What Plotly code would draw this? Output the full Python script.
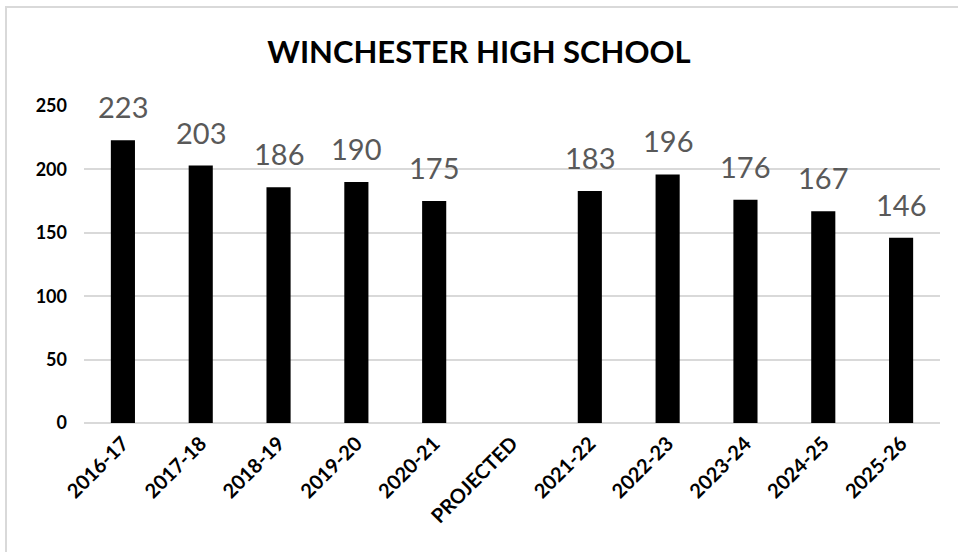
import plotly.graph_objects as go

categories = ["2016-17", "2017-18", "2018-19", "2019-20", "2020-21", "PROJECTED",
              "2021-22", "2022-23", "2023-24", "2024-25", "2025-26"]
values = [223, 203, 186, 190, 175, None, 183, 196, 176, 167, 146]

FONT = "Lato, Carlito, Open Sans, sans-serif"
W, H = 958, 552
L, R, T, B = 84, 18, 106, 129

fig = go.Figure(go.Bar(
    x=categories, y=values,
    marker=dict(color="#000000", line=dict(width=0)),
    cliponaxis=False,
))

for c, v in zip(categories, values):
    if v is None:
        continue
    fig.add_annotation(x=c, y=v, text=str(v), showarrow=False, yanchor="bottom",
                       yshift=14, font=dict(family=FONT, size=29, color="#595959"))

pw = W - L - R
ph = H - T - B
fig.add_shape(type="rect", xref="paper", yref="paper",
              x0=(6 - L) / pw, x1=(W + 5 - L) / pw,
              y0=-(H + 5 - T - ph) / ph, y1=(H - 7 - B) / ph,
              line=dict(color="#d9d9d9", width=2), fillcolor="rgba(0,0,0,0)", layer="below")

fig.update_layout(
    width=W, height=H,
    margin=dict(l=L, r=R, t=T, b=B),
    paper_bgcolor="white", plot_bgcolor="white",
    title=dict(text="<b>WINCHESTER HIGH SCHOOL</b>", x=0.5, xanchor="center",
               y=1 - 52 / H, yanchor="middle",
               font=dict(family=FONT, size=31, color="#000000")),
    bargap=0.69,
    showlegend=False,
    xaxis=dict(type="category", tickangle=-45, showgrid=False, showline=False,
               ticks="", tickfont=dict(family=FONT, size=20, color="#000000"),
               tickprefix="<b>", ticksuffix="</b>", ticklabelstandoff=4),
    yaxis=dict(range=[0, 250], dtick=50, showgrid=True, gridcolor="#d9d9d9", gridwidth=1.5,
               zeroline=True, zerolinecolor="#d9d9d9", zerolinewidth=1.5, showline=False,
               ticks="", tickfont=dict(family=FONT, size=18, color="#000000"),
               tickprefix="<b>", ticksuffix="</b>", ticklabelstandoff=16),
)

fig.write_html("out.html")
